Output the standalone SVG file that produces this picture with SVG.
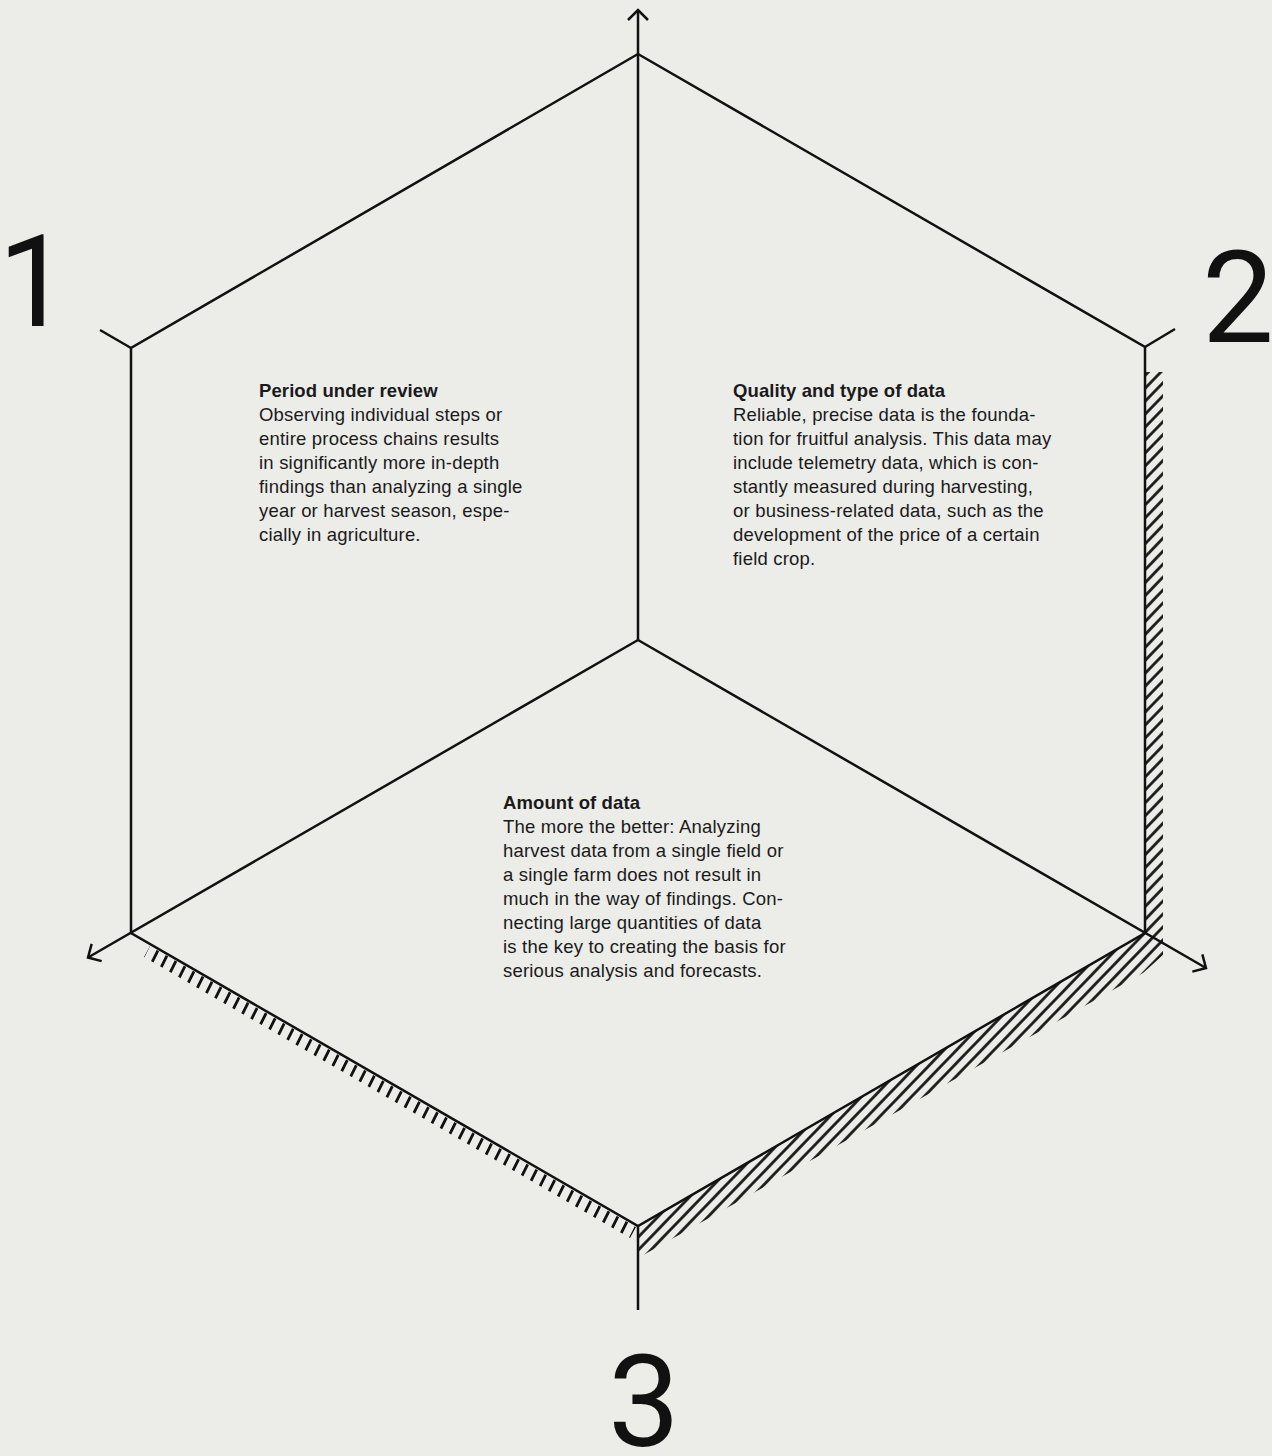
<svg xmlns="http://www.w3.org/2000/svg" width="1272" height="1456" viewBox="0 0 1272 1456">
  <style>
    .ln { fill: none; stroke: #111; stroke-width: 2.5; stroke-linecap: butt; stroke-linejoin: miter; }
    .num { font-family: Roboto, "Liberation Sans", Arial, sans-serif; font-weight: 400; font-size: 128px; fill: #111; text-anchor: middle; }
    .tx { font-family: "Liberation Sans", Arial, sans-serif; font-size: 18.5px; letter-spacing: 0.2px; fill: #1a1a1a; }
    .hd { font-weight: bold; letter-spacing: 0.1px; }
  </style>
  <defs>
    <marker id="arr" markerUnits="userSpaceOnUse" markerWidth="30" markerHeight="30" viewBox="-15 -15 30 30" refX="0" refY="0" orient="auto">
      <path d="M-10,-10 L0,0 L-10,10" fill="none" stroke="#111" stroke-width="2.5"/>
    </marker>
    <pattern id="hatchR" patternUnits="userSpaceOnUse" width="9" height="9" patternTransform="rotate(44)">
      <line x1="4.5" y1="-2" x2="4.5" y2="11" stroke="#111" stroke-width="2.7"/>
    </pattern>
    <pattern id="hatchL" patternUnits="userSpaceOnUse" width="10.4" height="10" patternTransform="rotate(26.6)">
      <line x1="5.2" y1="-2" x2="5.2" y2="12" stroke="#111" stroke-width="2.8"/>
    </pattern>
    <clipPath id="clipR">
      <polygon points="1145,372 1163,372 1163,955 1143,973 638,1258 638,1226 1145,933"/>
    </clipPath>
    <clipPath id="clipL">
      <polygon points="150,946 636,1227 630,1238 144,957"/>
    </clipPath>
  </defs>
  <rect x="0" y="0" width="1272" height="1456" fill="#ECECE8"/>

  <g id="shading">
    <rect x="600" y="360" width="600" height="920" fill="url(#hatchR)" clip-path="url(#clipR)"/>
    <rect x="130" y="930" width="520" height="320" fill="url(#hatchL)" clip-path="url(#clipL)"/>
  </g>

  <g id="frame">
    <polyline class="ln" points="638,54 131,348 131,933 638,1226 1145,933 1145,347 638,54"/>
    <line class="ln" x1="638" y1="640" x2="638" y2="54"/>
    <line class="ln" x1="131" y1="348" x2="100" y2="330"/>
    <line class="ln" x1="1145" y1="347" x2="1175" y2="329"/>
  </g>

  <g id="connectors">
    <line class="ln" x1="638" y1="54" x2="638" y2="10" marker-end="url(#arr)"/>
    <line class="ln" x1="638" y1="640" x2="88" y2="957.5" marker-end="url(#arr)"/>
    <line class="ln" x1="638" y1="640" x2="1206" y2="968" marker-end="url(#arr)"/>
    <line class="ln" x1="638" y1="1226" x2="638" y2="1310"/>
  </g>

  <g id="label-1"><text class="num" x="34" y="326">1</text></g>
  <g id="label-2"><text class="num" x="1238" y="342">2</text></g>
  <g id="label-3"><text class="num" x="644" y="1446">3</text></g>

  <g id="node-period">
    <text class="tx" x="259" y="397">
      <tspan class="hd" x="259" y="397">Period under review</tspan>
      <tspan x="259" y="421">Observing individual steps or</tspan>
      <tspan x="259" y="445">entire process chains results</tspan>
      <tspan x="259" y="469">in significantly more in-depth</tspan>
      <tspan x="259" y="493">findings than analyzing a single</tspan>
      <tspan x="259" y="517">year or harvest season, espe-</tspan>
      <tspan x="259" y="541">cially in agriculture.</tspan>
    </text>
  </g>

  <g id="node-quality">
    <text class="tx" x="733" y="397">
      <tspan class="hd" x="733" y="397">Quality and type of data</tspan>
      <tspan x="733" y="421">Reliable, precise data is the founda-</tspan>
      <tspan x="733" y="445">tion for fruitful analysis. This data may</tspan>
      <tspan x="733" y="469">include telemetry data, which is con-</tspan>
      <tspan x="733" y="493">stantly measured during harvesting,</tspan>
      <tspan x="733" y="517">or business-related data, such as the</tspan>
      <tspan x="733" y="541">development of the price of a certain</tspan>
      <tspan x="733" y="565">field crop.</tspan>
    </text>
  </g>

  <g id="node-amount">
    <text class="tx" x="503" y="809">
      <tspan class="hd" x="503" y="809">Amount of data</tspan>
      <tspan x="503" y="833">The more the better: Analyzing</tspan>
      <tspan x="503" y="857">harvest data from a single field or</tspan>
      <tspan x="503" y="881">a single farm does not result in</tspan>
      <tspan x="503" y="905">much in the way of findings. Con-</tspan>
      <tspan x="503" y="929">necting large quantities of data</tspan>
      <tspan x="503" y="953">is the key to creating the basis for</tspan>
      <tspan x="503" y="977">serious analysis and forecasts.</tspan>
    </text>
  </g>
</svg>
